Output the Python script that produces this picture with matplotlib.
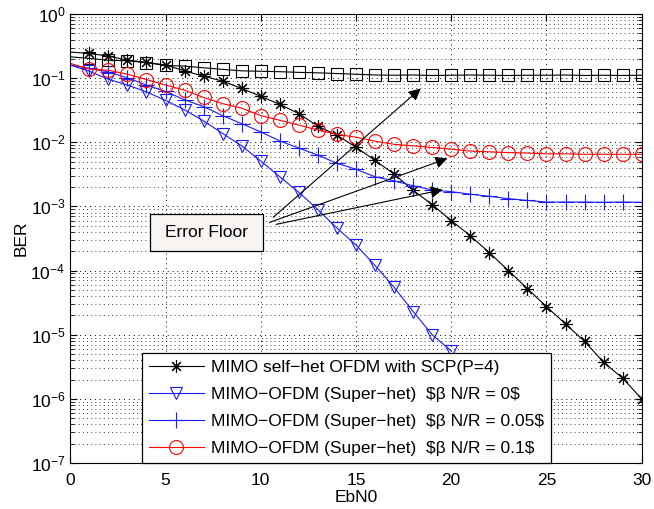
import numpy as np
import matplotlib.pyplot as plt
from matplotlib.patches import Rectangle
from matplotlib.ticker import LogLocator, FixedLocator, NullFormatter

plt.rcParams['font.family'] = ['Liberation Sans', 'DejaVu Sans']
plt.rcParams['mathtext.fontset'] = 'custom'
plt.rcParams['mathtext.rm'] = 'Liberation Sans'
plt.rcParams['mathtext.it'] = 'Liberation Sans'

ebn0 = np.arange(0, 31)

ber_scp = [0.255, 0.243, 0.22, 0.191, 0.176, 0.16, 0.130, 0.107, 0.0898, 0.069,
           0.052, 0.039, 0.028, 0.0178, 0.0129, 0.0084, 0.0052, 0.0032, 0.00178,
           0.00107, 6.0e-4, 3.5e-4, 1.9e-4, 1.0e-4, 5.2e-5, 2.75e-5, 1.47e-5,
           7.9e-6, 3.7e-6, 2.1e-6, 1.0e-6]
ber_floor = [0.215, 0.203, 0.19, 0.187, 0.174, 0.158, 0.154, 0.145, 0.137, 0.13,
             0.128, 0.126, 0.123, 0.121, 0.118, 0.115, 0.112, 0.111, 0.112, 0.110,
             0.111, 0.112, 0.111, 0.110, 0.111, 0.111, 0.112, 0.110, 0.111, 0.110,
             0.111]
ber_b0 = [0.16, 0.128, 0.096, 0.078, 0.061, 0.045, 0.032, 0.0215, 0.0137, 0.0088,
          0.0051, 0.0029, 0.00166, 8.9e-4, 4.6e-4, 2.5e-4, 1.2e-4, 5.5e-5, 2.3e-5,
          1.0e-5, 5.6e-6]
ber_b005 = [0.16, 0.142, 0.125, 0.101, 0.078, 0.062, 0.046, 0.036, 0.026, 0.0195,
            0.0145, 0.0105, 0.0081, 0.0063, 0.0047, 0.0038, 0.0029, 0.0025, 0.0021,
            0.0018, 0.0017, 0.00155, 0.00144, 0.00132, 0.00124, 0.00117, 0.00117,
            0.00117, 0.00116, 0.00117, 0.00116]
ber_b01 = [0.17, 0.138, 0.133, 0.115, 0.095, 0.078, 0.065, 0.050, 0.040, 0.034,
           0.026, 0.022, 0.0185, 0.0155, 0.0133, 0.012, 0.0104, 0.0093, 0.0088,
           0.0083, 0.0078, 0.0073, 0.0071, 0.0069, 0.0068, 0.0066, 0.0066, 0.0065,
           0.0065, 0.0065, 0.0065]

labels = ['MIMO self\u2212het OFDM with SCP(P=4)',
          'MIMO\u2212OFDM (Super\u2212het)  \\$\u03b2 N/R = 0\\$',
          'MIMO\u2212OFDM (Super\u2212het)  \\$\u03b2 N/R = 0.05\\$',
          'MIMO\u2212OFDM (Super\u2212het)  \\$\u03b2 N/R = 0.1\\$']

# arrow heads and tails (EbN0, BER)
arrow_heads = [(18.4, 0.069), (19.8, 0.0056), (19.55, 0.00182)]
arrow_tails = [(10.65, 10**-3.17), (10.45, 10**-3.25), (10.8, 10**-3.28)]

blue = '#1a1aff'
fig = plt.figure(figsize=(6.54, 5.09), dpi=100)
ax = fig.add_axes([0.1075, 0.0904, 0.8737, 0.8821])

mk = slice(1, None)
ax.semilogy(ebn0, ber_scp, '-', color='k', lw=0.8, marker=(8, 2, 0), ms=9,
            mew=0.8, markevery=mk, label=labels[0])
ax.semilogy(ebn0, ber_floor, '-', color='k', lw=0.8, marker='s', ms=8,
            mfc='none', mew=0.8, markevery=mk)
ax.semilogy(ebn0[:len(ber_b0)], ber_b0, '-', color=blue, lw=0.8, marker='v',
            ms=9, mfc='none', mew=0.8, markevery=mk, label=labels[1])
ax.semilogy(ebn0, ber_b005, '-', color=blue, lw=0.8, marker='+', ms=11,
            mew=0.8, markevery=mk, label=labels[2])
ax.semilogy(ebn0, ber_b01, '-', color='red', lw=0.8, marker='o', ms=10,
            mfc='none', mew=0.8, markevery=mk, label=labels[3])

ax.set_xlim(0, 30)
ax.set_ylim(1e-7, 1)
ax.xaxis.set_major_locator(FixedLocator([0, 5, 10, 15, 20, 25, 30]))
ax.yaxis.set_major_locator(LogLocator(base=10, numticks=10))
ax.yaxis.set_minor_locator(LogLocator(base=10, subs=np.arange(2, 10), numticks=10))
ax.yaxis.set_minor_formatter(NullFormatter())
ax.tick_params(which='both', direction='in', top=True, right=True, labelsize=12.5)
ax.tick_params(which='major', length=5, width=0.8)
ax.tick_params(which='minor', length=3, width=0.6)
ax.tick_params(axis='x', pad=7)
ax.grid(True, which='major', color='k', linestyle=(0, (1, 4)), linewidth=0.7)
ax.grid(True, which='minor', axis='y', color='k', linestyle=(0, (1, 4)), linewidth=0.6)
for s in ax.spines.values():
    s.set_linewidth(0.8)

ax.set_xlabel('EbN0', fontsize=12.5, labelpad=2)
ax.set_ylabel('BER', fontsize=12.5, labelpad=1)

for head, tail in zip(arrow_heads, arrow_tails):
    ax.annotate('', xy=head, xytext=tail,
                arrowprops=dict(arrowstyle='-|>', color='k', lw=0.8,
                                mutation_scale=18, shrinkA=0, shrinkB=0))

ax.add_patch(Rectangle((0.1386, 0.4722), 0.1988, 0.0824, transform=ax.transAxes,
                       facecolor='#f8f4f2', edgecolor='k', lw=0.9, zorder=5))
ax.text(0.238, 0.513, 'Error Floor', transform=ax.transAxes, ha='center',
        va='center', fontsize=12.5, zorder=6)

leg = ax.legend(loc='lower left', bbox_to_anchor=(0.125, 0.0), borderaxespad=0,
                fancybox=False, edgecolor='k', framealpha=1, fontsize=12.5,
                handlelength=3.2, handletextpad=0.4, labelspacing=0.68,
                borderpad=0.4)
leg.get_frame().set_linewidth(0.9)

fig.savefig('out.png', dpi=100)
